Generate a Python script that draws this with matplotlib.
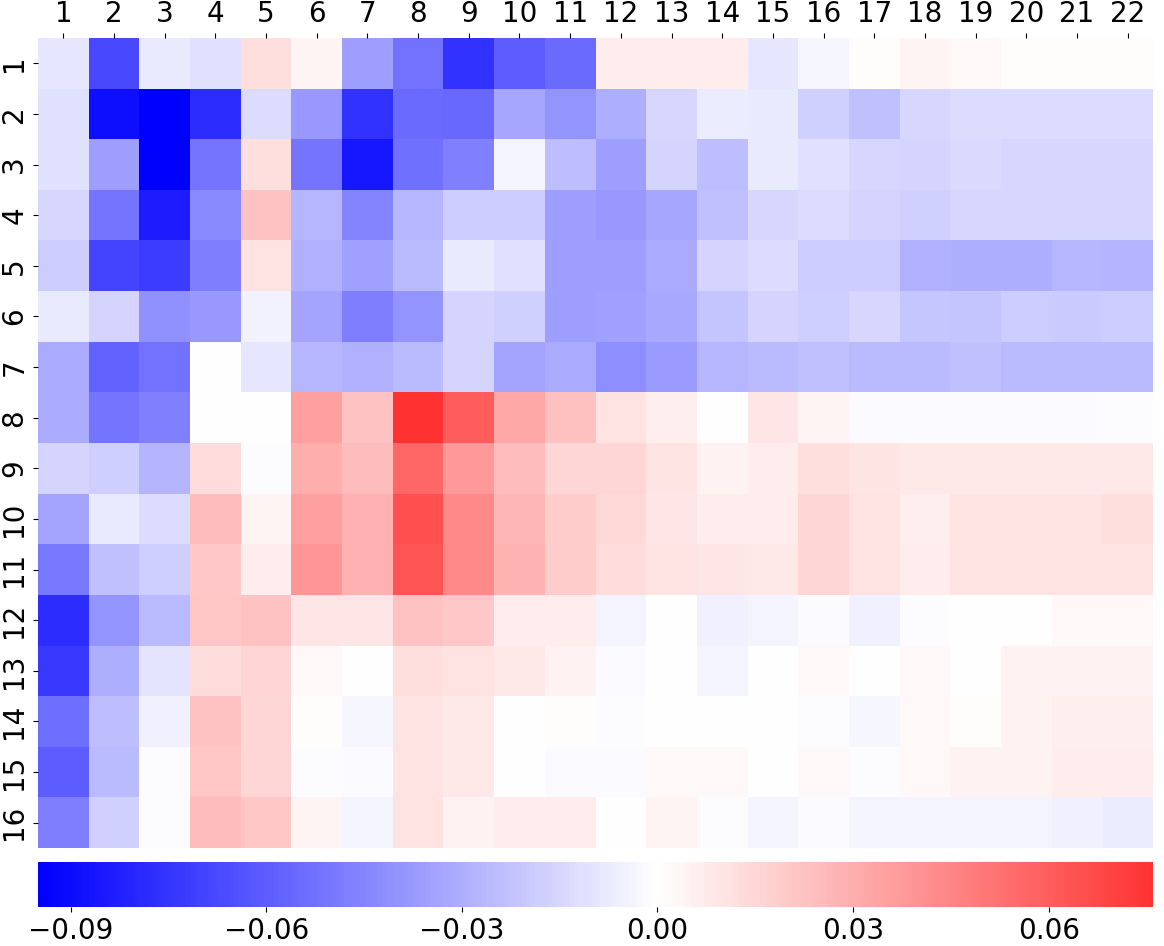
import numpy as np
import matplotlib
matplotlib.use("Agg")
import matplotlib.pyplot as plt
import seaborn as sns

# row / column labels
row_labels = [str(i) for i in range(1, 17)]
col_labels = [str(i) for i in range(1, 23)]

# values, one list per row
r1 = [-0.009, -0.068, -0.008, -0.012, 0.012, 0.004, -0.036, -0.052, -0.076, -0.060, -0.055,
      0.007, 0.007, 0.007, -0.009, -0.003, 0.001, 0.004, 0.002, 0.001, 0.001, 0.001]
r2 = [-0.011, -0.089, -0.095, -0.078, -0.013, -0.038, -0.076, -0.055, -0.056, -0.033, -0.040,
      -0.030, -0.015, -0.007, -0.008, -0.017, -0.023, -0.015, -0.013, -0.013, -0.013, -0.013]
r3 = [-0.011, -0.036, -0.095, -0.051, 0.012, -0.051, -0.086, -0.053, -0.047, -0.004, -0.024,
      -0.036, -0.016, -0.024, -0.008, -0.011, -0.015, -0.016, -0.014, -0.015, -0.015, -0.015]
r4 = [-0.015, -0.051, -0.084, -0.043, 0.022, -0.027, -0.045, -0.027, -0.019, -0.019, -0.036,
      -0.038, -0.033, -0.023, -0.015, -0.013, -0.016, -0.017, -0.015, -0.015, -0.015, -0.015]
r5 = [-0.019, -0.069, -0.072, -0.048, 0.011, -0.029, -0.035, -0.026, -0.008, -0.012, -0.036,
      -0.036, -0.031, -0.016, -0.013, -0.019, -0.019, -0.029, -0.030, -0.030, -0.027, -0.028]
r6 = [-0.008, -0.016, -0.041, -0.038, -0.005, -0.034, -0.048, -0.039, -0.016, -0.017, -0.036,
      -0.035, -0.032, -0.022, -0.016, -0.018, -0.015, -0.021, -0.022, -0.019, -0.020, -0.019]
r7 = [-0.031, -0.058, -0.052, 0.000, -0.009, -0.027, -0.029, -0.025, -0.016, -0.034, -0.031,
      -0.042, -0.037, -0.027, -0.025, -0.023, -0.025, -0.026, -0.023, -0.025, -0.025, -0.025]
r8 = [-0.031, -0.051, -0.047, 0.000, 0.0005, 0.035, 0.022, 0.076, 0.060, 0.032, 0.023,
      0.011, 0.006, 0.0005, 0.009, 0.004, -0.002, -0.002, -0.002, -0.002, -0.002, -0.001]
r9 = [-0.016, -0.018, -0.028, 0.013, -0.001, 0.030, 0.025, 0.056, 0.038, 0.025, 0.015,
      0.015, 0.010, 0.005, 0.007, 0.012, 0.010, 0.008, 0.008, 0.008, 0.008, 0.008]
r10 = [-0.034, -0.008, -0.013, 0.025, 0.004, 0.035, 0.029, 0.065, 0.044, 0.027, 0.019,
       0.014, 0.009, 0.007, 0.007, 0.015, 0.011, 0.006, 0.011, 0.011, 0.011, 0.012]
r11 = [-0.050, -0.023, -0.018, 0.020, 0.007, 0.039, 0.029, 0.063, 0.044, 0.028, 0.019,
       0.013, 0.011, 0.009, 0.008, 0.015, 0.011, 0.007, 0.011, 0.011, 0.011, 0.011]
r12 = [-0.078, -0.039, -0.026, 0.021, 0.022, 0.009, 0.009, 0.022, 0.020, 0.007, 0.007,
       -0.004, 0.000, -0.006, -0.004, -0.002, -0.006, -0.001, 0.0005, 0.0005, 0.002, 0.002]
r13 = [-0.073, -0.030, -0.010, 0.013, 0.016, 0.002, 0.000, 0.012, 0.011, 0.008, 0.005,
       -0.002, 0.0003, -0.004, 0.000, 0.003, 0.000, 0.003, 0.0005, 0.005, 0.005, 0.005]
r14 = [-0.054, -0.024, -0.006, 0.022, 0.015, 0.001, -0.003, 0.011, 0.008, 0.000, 0.001,
       -0.001, 0.000, 0.0005, 0.000, -0.001, -0.003, 0.002, 0.001, 0.005, 0.006, 0.006]
r15 = [-0.060, -0.025, -0.001, 0.021, 0.015, -0.001, -0.002, 0.011, 0.008, 0.000, -0.002,
       -0.002, 0.002, 0.003, 0.000, 0.002, -0.001, 0.003, 0.005, 0.005, 0.007, 0.007]
r16 = [-0.048, -0.017, -0.001, 0.025, 0.021, 0.004, -0.004, 0.011, 0.005, 0.007, 0.007,
       0.000, 0.004, -0.001, -0.004, -0.002, -0.004, -0.004, -0.004, -0.004, -0.006, -0.007]

data = np.array([r1, r2, r3, r4, r5, r6, r7, r8, r9, r10, r11, r12, r13, r14, r15, r16])

cbar_ticks = [-0.09, -0.06, -0.03, 0.00, 0.03, 0.06]

W, H = 1164, 946
fig = plt.figure(figsize=(W / 100, H / 100), dpi=100)
ax = fig.add_axes([38 / W, 1 - 848 / H, (1153 - 38) / W, (848 - 38) / H])
cax = fig.add_axes([38 / W, 1 - 907 / H, (1153 - 38) / W, (907 - 862) / H])

sns.heatmap(data, ax=ax, cbar_ax=cax, cmap="bwr", center=0,
            xticklabels=col_labels, yticklabels=row_labels,
            cbar_kws={"orientation": "horizontal", "ticks": cbar_ticks})

ax.xaxis.tick_top()
ax.tick_params(axis="both", labelsize=20)
plt.setp(ax.get_xticklabels(), rotation=0)
plt.setp(ax.get_yticklabels(), rotation=90, va="center")

cax.tick_params(labelsize=20)
cax.set_xticklabels(["\u22120.09", "\u22120.06", "\u22120.03", "0.00", "0.03", "0.06"])

fig.savefig("out.png", dpi=100)
